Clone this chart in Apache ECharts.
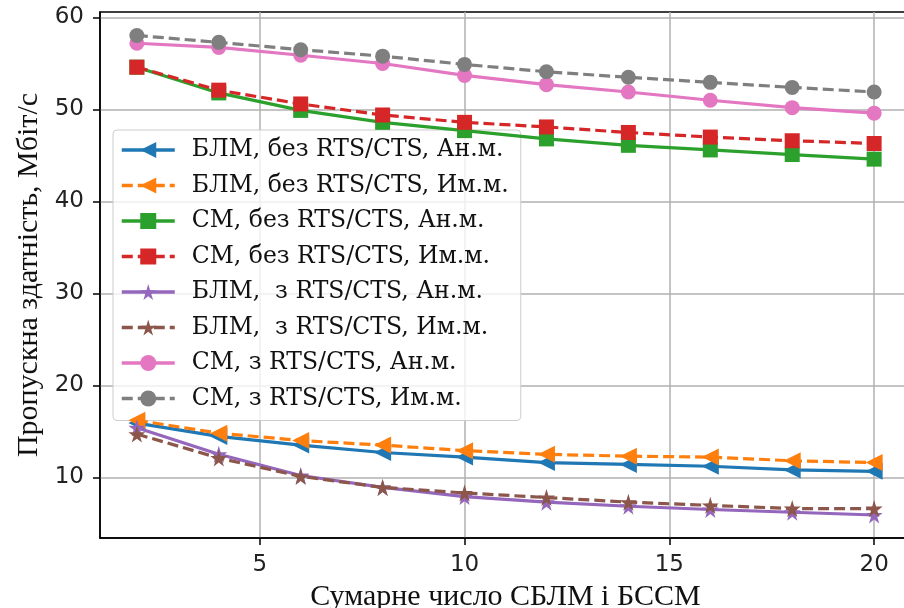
<!DOCTYPE html>
<html><head><meta charset="utf-8">
<script src="https://cdn.jsdelivr.net/npm/echarts@6/dist/echarts.min.js"></script>
<style>html,body{margin:0;padding:0;background:#fff}#c{width:904px;height:608px}</style>
</head><body><div id="c"></div>
<script>
const xValues = [2, 4, 6, 8, 10, 12, 14, 16, 18, 20];
const xTicks = [5, 10, 15, 20];
const yTicks = [10, 20, 30, 40, 50, 60];
const seriesNames = [
  'БЛМ, без RTS/CTS, Ан.м.',
  'БЛМ, без RTS/CTS, Им.м.',
  'СМ, без RTS/CTS, Ан.м.',
  'СМ, без RTS/CTS, Им.м.',
  'БЛМ,  з RTS/CTS, Ан.м.',
  'БЛМ,  з RTS/CTS, Им.м.',
  'СМ, з RTS/CTS, Ан.м.',
  'СМ, з RTS/CTS, Им.м.'
];
const blmNoRtsAn = [15.9, 14.45, 13.5, 12.7, 12.2, 11.6, 11.4, 11.2, 10.8, 10.65];
const blmNoRtsIm = [16.2, 14.8, 14.0, 13.5, 12.9, 12.5, 12.3, 12.2, 11.8, 11.6];
const smNoRtsAn = [54.6, 51.8, 49.9, 48.6, 47.7, 46.8, 46.1, 45.6, 45.1, 44.6];
const smNoRtsIm = [54.6, 52.1, 50.6, 49.4, 48.6, 48.1, 47.5, 47.0, 46.6, 46.3];
const blmRtsAn = [15.4, 12.5, 10.2, 8.9, 7.9, 7.3, 6.85, 6.5, 6.2, 5.9];
const blmRtsIm = [14.7, 12.1, 10.1, 8.9, 8.3, 7.8, 7.3, 6.95, 6.6, 6.6];
const smRtsAn = [57.2, 56.75, 55.9, 55.0, 53.7, 52.7, 51.9, 51.0, 50.2, 49.6];
const smRtsIm = [58.05, 57.3, 56.5, 55.8, 54.9, 54.1, 53.5, 52.95, 52.4, 51.9];

const allData = [blmNoRtsAn, blmNoRtsIm, smNoRtsAn, smNoRtsIm, blmRtsAn, blmRtsIm, smRtsAn, smRtsIm];
const colors = ['#1f77b4', '#ff7f0e', '#2ca02c', '#d62728', '#9467bd', '#8c564b', '#e377c2', '#7f7f7f'];
const star = 'path://M50,0 L61,35 L98,35 L68,57 L79,91 L50,70 L21,91 L32,57 L2,35 L39,35 Z';
const symbols = ['triangle', 'triangle', 'rect', 'rect', star, star, 'circle', 'circle'];
const rotates = [90, 90, 0, 0, 0, 0, 0, 0];
const sizes = [17, 17, 15, 15, 17, 17, 15, 15];
const dashed = [false, true, false, true, false, true, false, true];

const chart = echarts.init(document.getElementById('c'), null, {renderer: 'canvas'});
const series = allData.map((d, i) => ({
  name: seriesNames[i],
  type: 'line',
  data: xValues.map((x, j) => [x, d[j]]),
  symbol: symbols[i],
  symbolRotate: rotates[i],
  symbolSize: sizes[i],
  showAllSymbol: true,
  itemStyle: {color: colors[i]},
  lineStyle: {color: colors[i], width: 3.2, type: dashed[i] ? [11, 5] : 'solid'},
  emphasis: {disabled: true},
  animation: false,
  z: 3 + i
}));

chart.setOption({
  animation: false,
  grid: {left: 100, top: 12, right: -7, bottom: 70, show: true, borderColor: '#000', borderWidth: 1.5,
         containLabel: false, outerBoundsMode: 'none'},
  xAxis: {
    type: 'value', min: 1.1, max: 20.9, splitNumber: 4,
    name: 'Сумарне число СБЛМ і БССМ', nameLocation: 'middle', nameGap: 35,
    nameTextStyle: {fontFamily: 'Liberation Serif', fontSize: 30, color: '#111'},
    axisLine: {show: true, lineStyle: {color: '#000', width: 1.5}},
    axisTick: {show: true, customValues: xTicks, length: 7, lineStyle: {color: '#000', width: 1.5}},
    axisLabel: {customValues: xTicks, fontFamily: 'DejaVu Sans', fontSize: 23, color: '#222', margin: 16},
    splitLine: {show: true, lineStyle: {color: '#b0b0b0', width: 1.5}}
  },
  yAxis: {
    type: 'value', min: 3.4, max: 60.6, splitNumber: 5,
    name: 'Пропускна здатність, Мбіт/с', nameLocation: 'middle', nameGap: 55,
    nameTextStyle: {fontFamily: 'Liberation Serif', fontSize: 30, color: '#111'},
    axisLine: {show: true, lineStyle: {color: '#000', width: 1.5}},
    axisTick: {show: true, customValues: yTicks, length: 7, lineStyle: {color: '#000', width: 1.5}},
    axisLabel: {customValues: yTicks, fontFamily: 'DejaVu Sans', fontSize: 23, color: '#222', margin: 16},
    splitLine: {show: true, lineStyle: {color: '#b0b0b0', width: 1.5}}
  },
  legend: {
    orient: 'vertical', left: 113, top: 130,
    data: seriesNames,
    itemWidth: 53, itemHeight: 20, itemGap: 11.5,
    padding: [8, 12, 10, 7],
    backgroundColor: 'rgba(255,255,255,0.8)',
    borderColor: '#cccccc', borderWidth: 1, borderRadius: 4,
    lineStyle: {width: 3.5},
    textStyle: {fontFamily: 'DejaVu Serif', fontSize: 23.5, color: '#111', lineHeight: 24, padding: [0, 0, 0, 12]},
    selectedMode: false
  },
  series: series
});
</script></body></html>
